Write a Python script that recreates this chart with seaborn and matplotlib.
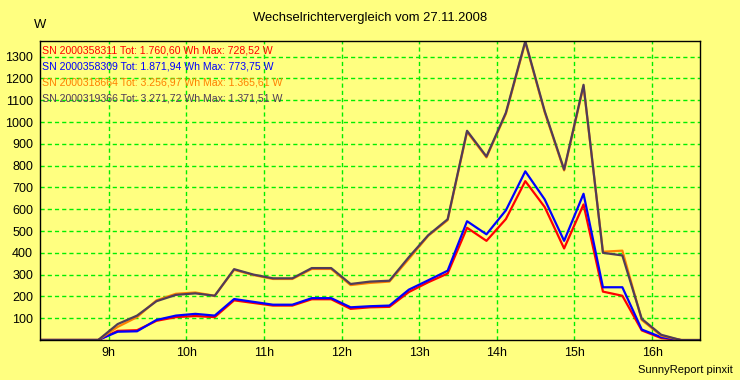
import matplotlib
matplotlib.use("Agg")
import matplotlib.pyplot as plt
import numpy as np
import pandas as pd
import seaborn as sns

# Messzeitpunkte (15-Minuten-Werte)
times = [
    "8:07", "8:22", "8:37", "8:52", "9:07", "9:22", "9:37", "9:52",
    "10:07", "10:22", "10:37", "10:52", "11:07", "11:22", "11:37", "11:52",
    "12:07", "12:22", "12:37", "12:52", "13:07", "13:22", "13:37", "13:52",
    "14:07", "14:22", "14:37", "14:52", "15:07", "15:22", "15:37", "15:52",
    "16:07", "16:22", "16:37",
]

# Leistung in W je Wechselrichter
sn_311 = [0, 0, 0, 0, 42, 45, 88, 105, 110, 105, 182, 170, 158, 158, 187, 187,
          143, 150, 152, 220, 265, 305, 515, 455, 555, 729, 610, 420, 622, 222, 203, 44,
          9, 0, np.nan]
sn_309 = [0, 0, 0, 0, 38, 40, 92, 112, 120, 112, 188, 175, 162, 162, 192, 192,
          150, 155, 158, 231, 274, 318, 545, 485, 595, 774, 645, 455, 671, 242, 242, 48,
          13, 0, np.nan]
sn_664 = [0, 0, 0, 0, 60, 105, 182, 212, 218, 203, 322, 298, 280, 280, 326, 326,
          252, 262, 268, 372, 478, 550, 955, 838, 1038, 1366, 1045, 778, 1165, 405, 410, 92,
          20, 0, 0]
sn_366 = [0, 0, 0, 0, 73, 112, 178, 207, 214, 203, 325, 300, 283, 283, 330, 330,
          257, 268, 272, 380, 481, 554, 960, 842, 1043, 1371, 1050, 782, 1171, 400, 388, 97,
          24, 0, 0]

legend_lines = [
    "SN 2000358311 Tot: 1.760,60 Wh Max: 728,52 W",
    "SN 2000358309 Tot: 1.871,94 Wh Max: 773,75 W",
    "SN 2000318664 Tot: 3.256,97 Wh Max: 1.365,61 W",
    "SN 2000319366 Tot: 3.271,72 Wh Max: 1.371,51 W",
]
series_names = ["2000358311", "2000358309", "2000318664", "2000319366"]
colors = ["#ff0000", "#0000ff", "#ff8000", "#503c58"]

x_ticks = [9, 10, 11, 12, 13, 14, 15, 16]
y_ticks = [100, 200, 300, 400, 500, 600, 700, 800, 900, 1000, 1100, 1200, 1300]


def to_hours(t):
    h, m = t.split(":")
    return int(h) + int(m) / 60


def main():
    hours = [to_hours(t) for t in times]
    frames = []
    for name, vals in zip(series_names, [sn_311, sn_309, sn_664, sn_366]):
        frames.append(pd.DataFrame({"Zeit": hours, "W": vals, "SN": name}))
    df = pd.concat(frames, ignore_index=True)

    plt.rcParams["font.family"] = ["Liberation Sans", "DejaVu Sans"]
    bg = "#ffff80"
    fig = plt.figure(figsize=(7.4, 3.8), dpi=100, facecolor=bg)
    ax = fig.add_axes([40 / 740, 1 - 340 / 380, 660 / 740, 299 / 380])
    ax.set_facecolor(bg)

    ax.grid(True, color="#00ee00", linestyle=(0, (3, 2.2)), linewidth=1.0)
    ax.set_axisbelow(True)

    for name, col in zip(series_names, colors):
        sns.lineplot(data=df[df["SN"] == name], x="Zeit", y="W", color=col,
                     linewidth=1.6, ax=ax, legend=False)

    ax.set_xlim(to_hours("8:07"), to_hours("16:37"))
    ax.set_ylim(0, 1372)
    ax.set_xticks(x_ticks)
    ax.set_xticklabels([f"{h}h" for h in x_ticks])
    ax.set_yticks(y_ticks)
    ax.tick_params(length=0, labelsize=9, pad=5)
    ax.set_xlabel("")
    ax.set_ylabel("")
    for sp in ax.spines.values():
        sp.set_color("black")
        sp.set_linewidth(1.0)

    for i, (txt, col) in enumerate(zip(legend_lines, colors)):
        ax.text(0.003, 0.967 - i * 0.053, txt, color=col, fontsize=7.6,
                transform=ax.transAxes, va="center", ha="left")

    fig.text(370 / 740, 1 - 18 / 380, "Wechselrichtervergleich vom 27.11.2008",
             ha="center", va="center", fontsize=9.4)
    fig.text(40 / 740, 1 - 25 / 380, "W", ha="center", va="center", fontsize=9.4)
    fig.text(733 / 740, 1 - 370 / 380, "SunnyReport pinxit", ha="right", va="center",
             fontsize=8)

    fig.savefig("out.png", dpi=100, facecolor=bg)
    plt.close(fig)


if __name__ == "__main__":
    main()
